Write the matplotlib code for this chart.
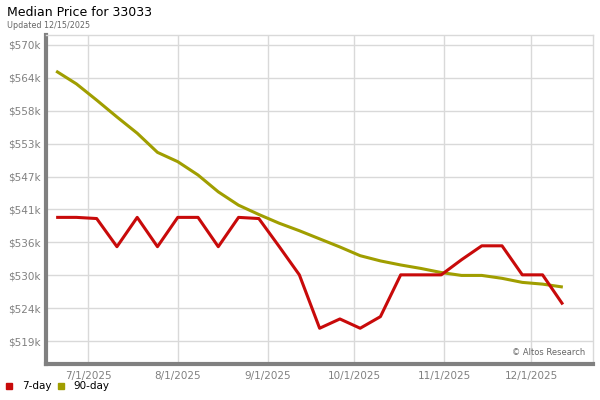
import matplotlib
matplotlib.use("Agg")
import matplotlib.pyplot as plt
import matplotlib.dates as mdates
import matplotlib.ticker as mticker
import numpy as np
import pandas as pd

dates = pd.date_range("2025-06-20", "2025-12-12", freq="7D")
seven_day = [540.3, 540.3, 540.1, 535.25, 540.3, 535.25, 540.3, 540.3, 535.25, 540.3,
             540.1, 535.3, 530.4, 521.2, 522.8, 521.2, 523.2, 530.4, 530.4, 530.4,
             533.0, 535.4, 535.4, 530.4, 530.4, 525.3]
ninety_day = [565.5, 563.3, 560.5, 557.6, 554.8, 551.5, 549.9, 547.6, 544.7, 542.4,
              540.8, 539.3, 538.0, 536.6, 535.2, 533.7, 532.8, 532.1, 531.5, 530.8,
              530.3, 530.3, 529.8, 529.1, 528.8, 528.3]
seven_day = np.array(seven_day) * 1000
ninety_day = np.array(ninety_day) * 1000
y_ticks = np.linspace(519000, 570000, 10)
x_ticks = pd.to_datetime(["2025-07-01", "2025-08-01", "2025-09-01", "2025-10-01",
                          "2025-11-01", "2025-12-01"])

red = "#c80a0a"
olive = "#a09e00"
grid_c = "#d9d9d9"
spine_c = "#808080"
tick_c = "#808080"

fig = plt.figure(figsize=(6, 4), dpi=100)
ax = fig.add_axes([46/600, 1-364/400, (593-46)/600, (364-35)/400])

ax.plot(dates, ninety_day, color=olive, lw=2.2, solid_capstyle="butt", zorder=3)
ax.plot(dates, seven_day, color=red, lw=2.2, solid_capstyle="butt", zorder=4)

ax.set_xlim(pd.Timestamp("2025-06-16 12:00"), pd.Timestamp("2025-12-22 10:00"))
ax.set_ylim(515040, 571720)
ax.set_yticks(y_ticks)
ax.yaxis.set_major_formatter(mticker.FuncFormatter(lambda v, p: f"${int(v // 1000)}k"))
ax.set_xticks(x_ticks)
ax.xaxis.set_major_formatter(mdates.DateFormatter("%-m/%-d/%Y"))
ax.tick_params(axis="both", length=0, labelsize=7.5, colors=tick_c, pad=4)
ax.tick_params(axis="x", pad=5)
ax.grid(True, color=grid_c, lw=1)
ax.set_axisbelow(True)

for s in ["top", "right"]:
    ax.spines[s].set_color(grid_c)
    ax.spines[s].set_linewidth(1)
for s in ["left", "bottom"]:
    ax.spines[s].set_color(spine_c)
    ax.spines[s].set_linewidth(3)
    ax.spines[s].set_capstyle("projecting")

fig.text(7/600, 1-13/400, "Median Price for 33033", fontsize=9, color="black",
         va="center", ha="left")
fig.text(7/600, 1-25/400, "Updated 12/15/2025", fontsize=5.8, color="#666666",
         va="center", ha="left")
ax.text(0.985, 0.035, "© Altos Research", transform=ax.transAxes, fontsize=6,
        color="#666666", ha="right", va="center")

# legend
fig.patches.append(matplotlib.patches.Rectangle((6/600, 1-389/400), 6/600, 6/400,
                   transform=fig.transFigure, color=red, figure=fig))
fig.text(22/600, 1-386/400, "7-day", fontsize=7.5, va="center", ha="left")
fig.patches.append(matplotlib.patches.Rectangle((58/600, 1-389/400), 6/600, 6/400,
                   transform=fig.transFigure, color=olive, figure=fig))
fig.text(73/600, 1-386/400, "90-day", fontsize=7.5, va="center", ha="left")

fig.savefig("out.png", dpi=100)
